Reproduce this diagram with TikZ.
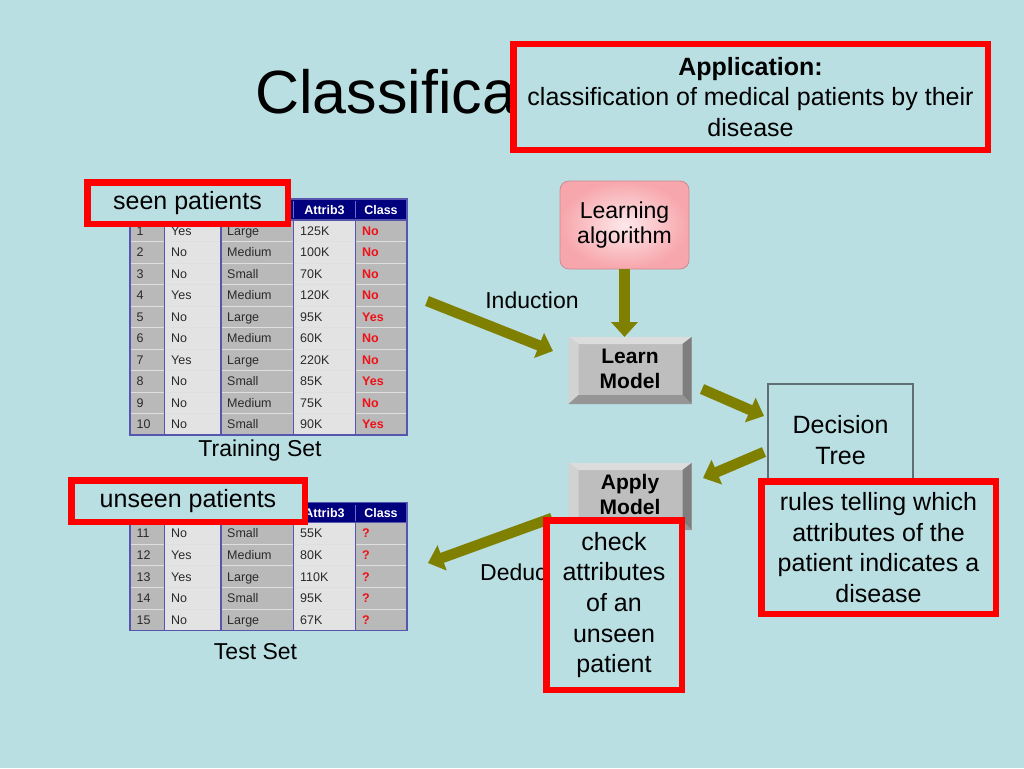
\documentclass[tikz,border=0pt]{standalone}
\usepackage{fontspec}
\setmainfont{Liberation Sans}
\usetikzlibrary{arrows.meta,calc}
\definecolor{bg}{HTML}{B9DFE3}
\definecolor{redb}{HTML}{FF0000}
\definecolor{olivea}{HTML}{808000}
\definecolor{navyh}{HTML}{00007E}
\definecolor{tline}{HTML}{5656AE}
\definecolor{hline}{HTML}{6C6CD6}
\definecolor{cdark}{HTML}{B9B9B9}
\definecolor{clight}{HTML}{E3E3E3}
\definecolor{ctext}{HTML}{2A2A2A}
\definecolor{cred}{HTML}{F01018}
\definecolor{pinkin}{HTML}{FDE8EA}
\definecolor{pinkout}{HTML}{F7A6AC}
\definecolor{pinkline}{HTML}{CC8A90}
\definecolor{bvface}{HTML}{BEBEBE}
\definecolor{bvtop}{HTML}{DCDCDC}
\definecolor{bvleft}{HTML}{D2D2D2}
\definecolor{bvright}{HTML}{7E7E7E}
\definecolor{bvbot}{HTML}{969696}
\definecolor{dtline}{HTML}{5F6E73}

\tikzset{
  redbox/.style={draw=redb, line width=6.5pt, fill=bg, align=center, inner sep=0pt,
    font=\fontsize{25}{30.7}\selectfont},
  cell/.style={anchor=west, inner sep=0pt, text height=9pt, text depth=0pt, text=ctext,
    font=\fontsize{12.5}{14}\selectfont},
  cellr/.style={cell, text=cred, font=\fontsize{12.5}{14}\selectfont\bfseries},
  headtxt/.style={inner sep=0pt, text height=9pt, text depth=0pt, text=white,
    font=\fontsize{12.5}{14}\selectfont\bfseries},
  lbl/.style={inner sep=0pt, font=\fontsize{23}{26}\selectfont},
  bevelnode/.style={fill=bvface, inner sep=0pt, outer sep=0pt, minimum width=123pt,
    minimum height=67pt, align=center, font=\fontsize{21}{25}\selectfont\bfseries},
  bigarrow/.style={draw=olivea, line width=10.5pt, -{Triangle[width=26pt,length=15pt]}},
}

\newcommand\mytable[6]{%
  \pgfmathsetmacro\mytb{#2+#3}%
  \pgfmathsetmacro\mytbot{#2+#3+#4*#5}%
  \fill[navyh] (130,#2) rectangle (407,\mytb);
  \fill[cdark] (130,\mytb) rectangle (164.5,\mytbot);
  \fill[clight] (164.5,\mytb) rectangle (221,\mytbot);
  \fill[cdark] (221,\mytb) rectangle (293.5,\mytbot);
  \fill[clight] (293.5,\mytb) rectangle (355.5,\mytbot);
  \fill[cdark] (355.5,\mytb) rectangle (407,\mytbot);
  \foreach \id/\a/\b/\c/\d [count=\i] in {#6} {
    \pgfmathsetmacro\yy{#2+#3+(\i-0.5)*#4}
    \pgfmathsetmacro\yl{#2+#3+\i*#4}
    \draw[white!55!cdark, line width=0.8pt] (130,\yl) -- (407,\yl);
    \node[cell] (#1-\i-1) at (136.5,\yy) {\id};
    \node[cell] (#1-\i-2) at (171,\yy) {\a};
    \node[cell] (#1-\i-3) at (227,\yy) {\b};
    \node[cell] (#1-\i-4) at (300,\yy) {\c};
    \node[cellr] (#1-\i-5) at (362,\yy) {\d};
  }
  \foreach \x in {164.5,221,293.5,355.5} {
    \draw[tline, line width=1.5pt] (\x,\mytb) -- (\x,\mytbot);
    \draw[hline, line width=1pt] (\x,#2+2) -- (\x,\mytb-2);
  }
  \draw[tline, line width=1.5pt] (130,\mytb) -- (407,\mytb);
  \draw[tline, line width=1.5pt] (130,#2) rectangle (407,\mytbot);
  \node[headtxt] (#1-h4) at (324.5,#2+#3/2) {Attrib3};
  \node[headtxt] (#1-h5) at (381,#2+#3/2) {Class};
}

\newcommand\bevelbox[1]{%
  \fill[bvtop] (#1.north west) -- (#1.north east) -- ($(#1.north east)+(-9,7)$) -- ($(#1.north west)+(10,7)$) -- cycle;
  \fill[bvleft] (#1.north west) -- ($(#1.north west)+(10,7)$) -- ($(#1.south west)+(10,-9)$) -- (#1.south west) -- cycle;
  \fill[bvright] (#1.north east) -- ($(#1.north east)+(-9,7)$) -- ($(#1.south east)+(-9,-9)$) -- (#1.south east) -- cycle;
  \fill[bvbot] (#1.south west) -- ($(#1.south west)+(10,-9)$) -- ($(#1.south east)+(-9,-9)$) -- (#1.south east) -- cycle;
}

\begin{document}
\begin{tikzpicture}[x=1pt,y=-1pt]
\fill[bg] (0,0) rectangle (1024,768);
\useasboundingbox (0,0) rectangle (1024,768);

% title
\node[anchor=west, inner sep=0pt, font=\fontsize{61}{63}\selectfont] (title) at (255,92) {Classifica};

% tables
\mytable{tr}{199}{21}{21.5}{10}{1/Yes/Large/125K/No, 2/No/Medium/100K/No, 3/No/Small/70K/No,
  4/Yes/Medium/120K/No, 5/No/Large/95K/Yes, 6/No/Medium/60K/No, 7/Yes/Large/220K/No,
  8/No/Small/85K/Yes, 9/No/Medium/75K/No, 10/No/Small/90K/Yes}
\mytable{te}{502.5}{20}{21.6}{5}{11/No/Small/55K/?, 12/Yes/Medium/80K/?, 13/Yes/Large/110K/?,
  14/No/Small/95K/?, 15/No/Large/67K/?}
\node[lbl] (trainlbl) at (260,451) {Training Set};
\node[lbl] (testlbl) at (255.5,652) {Test Set};

% learning algorithm
\node[draw=pinkline, line width=0.8pt, rounded corners=9pt, inner color=pinkin, outer color=pinkout,
  minimum width=129pt, minimum height=88pt, align=center, inner sep=0pt,
  font=\fontsize{23}{25}\selectfont] (alg) at (624.5,225) {Learning\\algorithm};

% learn / apply model
\node[bevelnode] (learn) at (630,370.5) {\raisebox{2.5pt}{\begin{tabular}{@{}c@{}}Learn\\Model\end{tabular}}};
\bevelbox{learn}
\node[bevelnode] (apply) at (630,496.5) {\raisebox{2.5pt}{\begin{tabular}{@{}c@{}}Apply\\Model\end{tabular}}};
\bevelbox{apply}

% decision tree
\node[draw=dtline, line width=1.2pt, fill=bg, minimum width=145pt, minimum height=112pt,
  align=center, inner sep=0pt, font=\fontsize{25}{31}\selectfont] (dt) at (840.5,440) {Decision\\Tree};

% labels
\node[lbl] (induction) at (532,300) {Induction};
\node[lbl, anchor=west] (deduction) at (480,572) {Deduc};

% arrows
\coordinate (a1s) at (427,301);
\coordinate (a1e) at (553,351);
\coordinate (a3s) at (702,389);
\coordinate (a3e) at (764,416);
\coordinate (a4s) at (764,452);
\coordinate (a4e) at (703,478);
\coordinate (a5s) at (552,518);
\coordinate (a5e) at (428,563);
\draw[bigarrow] (a1s) -- (a1e);
\draw[bigarrow] (alg.south) -- (alg.south |- learn.north);
\draw[bigarrow] (a3s) -- (a3e);
\draw[bigarrow] (a4s) -- (a4e);
\draw[bigarrow] (a5s) -- (a5e);

% red callouts
\node[redbox, minimum width=474.5pt, minimum height=105.5pt] (appl) at (750.5,97)
  {\textbf{Application:}\\classification of medical patients by their\\disease};
\node[redbox, minimum width=200.5pt, minimum height=41.5pt] (seen) at (187.5,203) {seen patients};
\node[redbox, minimum width=233.5pt, minimum height=41.5pt] (unseen) at (188,501) {unseen patients};
\node[redbox, minimum width=234.5pt, minimum height=132.5pt] (rules) at (878.5,547.5)
  {rules telling which\\attributes of the\\patient indicates a\\disease};
\node[redbox, minimum width=135.5pt, minimum height=169.5pt] (check) at (614,605)
  {check\\attributes\\of an\\unseen\\patient};
\end{tikzpicture}
\end{document}
